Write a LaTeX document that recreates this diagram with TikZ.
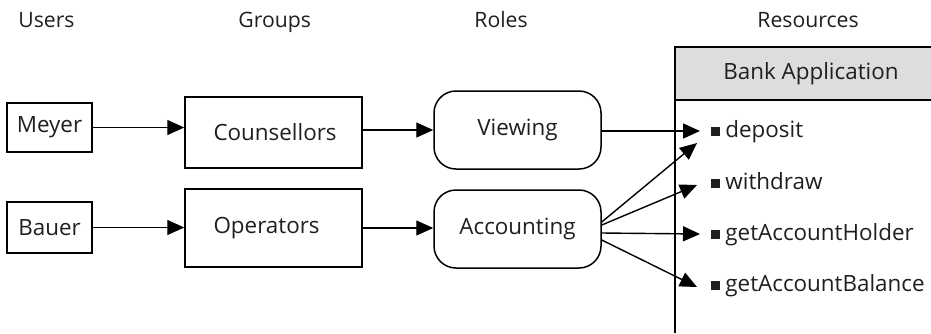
\documentclass[tikz,border=0pt]{standalone}
\usepackage{fontspec}
\setmainfont{Open Sans}
\usetikzlibrary{arrows.meta,calc}
\definecolor{hdrgray}{HTML}{DCDDDF}
\begin{document}
\begin{tikzpicture}[x=0.5pt,y=-0.5pt,
  every node/.style={font=\fontsize{11.2}{13}\selectfont, text=black!88},
  box/.style={draw, line width=0.75pt, inner sep=0pt},
  rolebox/.style={draw, line width=0.75pt, rounded corners=11pt, inner sep=0pt},
  conn/.style={line width=0.7pt, -{Triangle[length=8.5pt,width=7.5pt]}},
  hdr/.style={anchor=base west, inner sep=0pt, font=\fontsize{10.6}{12}\selectfont},
  item/.style={anchor=base west, inner sep=0pt}]
\useasboundingbox (0,0) rectangle (931,333);

% column headers
\node[hdr] (husers) at (18,27) {Users};
\node[hdr] (hgroups) at (238,27) {Groups};
\node[hdr] (hroles) at (474,27) {Roles};
\node[hdr] (hres) at (757,27) {Resources};

% resource box
\fill[hdrgray] (675,47) rectangle (931,100);
\draw[line width=0.75pt] (931,47) -- (675,47) -- (675,333);
\draw[line width=0.75pt] (675,100) -- (931,100);
\node (bank) at (811,73.5) {Bank Application};

% items
\newcommand{\sqb}{\rule[0.4pt]{4.4pt}{4.4pt}\hspace{2.6pt}}
\node[item] (dep) at (711,137) {\sqb deposit};
\node[item] (wd) at (711,189) {\sqb withdraw};
\node[item] (hold) at (711,240) {\sqb getAccountHolder};
\node[item] (bal) at (711,291) {\sqb getAccountBalance};

% users
\node[box, minimum width=42.5pt, minimum height=24.5pt] (meyer) at (49.5,127.5) {Meyer};
\node[box, minimum width=42.5pt, minimum height=25.5pt] (bauer) at (49.5,227.5) {Bauer};

% groups
\node[box, minimum width=88.5pt, minimum height=35.5pt] (couns) at (273.5,132.5) {\makebox[60pt][l]{Counsellors}};
\node[box, minimum width=88.5pt, minimum height=39pt] (oper) at (273.5,228) {\makebox[60pt][l]{Operators}};

% roles
\node[rolebox, minimum width=83.5pt, minimum height=39pt] (view) at (517.5,130) {Viewing};
\node[rolebox, minimum width=83.5pt, minimum height=39pt] (acc) at (517.5,229) {Accounting};

% arrow targets
\coordinate (tdep) at (700,131);
\coordinate (tdep2) at (697,143);
\coordinate (twd) at (697,185);
\coordinate (thold) at (700,234);
\coordinate (tbal) at (697,287);
\coordinate (s1) at ($(acc.east)+(0,-7)$);
\coordinate (s2) at ($(acc.east)+(0,-4)$);
\coordinate (s3) at ($(acc.east)+(0,4)$);
\coordinate (s4) at ($(acc.east)+(0,11)$);

% connectors
\draw[conn] (meyer.east) -- (meyer.east -| couns.west);
\draw[conn] (bauer.east) -- (bauer.east -| oper.west);
\draw[conn] (view.west -| couns.east) -- (view.west);
\draw[conn] (oper.east) -- (oper.east -| acc.west);
\draw[conn] (tdep -| view.east) -- (tdep);
\draw[conn] (s1) -- (tdep2);
\draw[conn] (s2) -- (twd);
\draw[conn] (s3) -- (thold);
\draw[conn] (s4) -- (tbal);
\end{tikzpicture}
\end{document}
